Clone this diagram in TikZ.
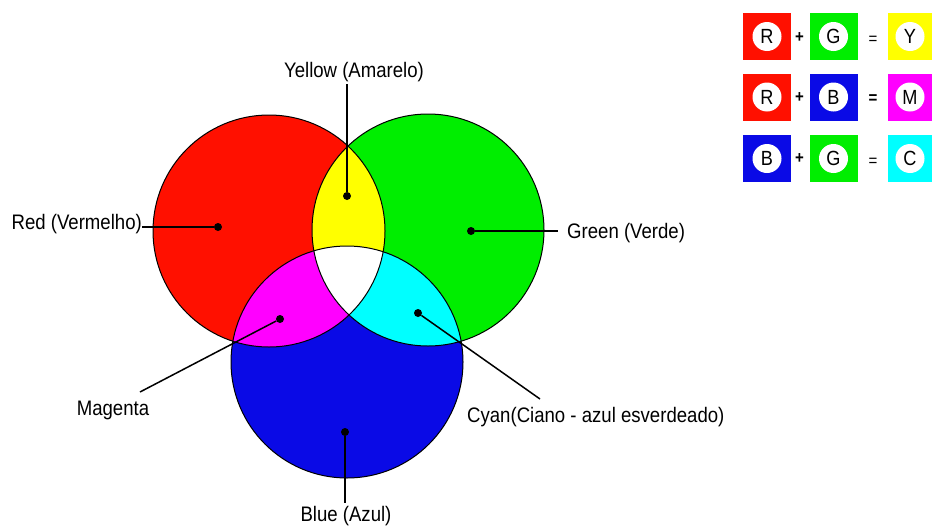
\documentclass[tikz,border=0pt]{standalone}
\usepackage{fontspec}
\setmainfont{Liberation Sans}[FakeStretch=0.885]
\definecolor{cR}{RGB}{255,16,0}
\definecolor{cG}{RGB}{0,238,0}
\definecolor{cB}{RGB}{10,10,230}
\definecolor{cY}{RGB}{255,255,0}
\definecolor{cM}{RGB}{255,0,255}
\definecolor{cC}{RGB}{0,255,255}
\begin{document}
\begin{tikzpicture}[x=1pt,y=-1pt,
  lbl/.style={font=\fontsize{21}{24}\selectfont, inner sep=0pt},
  lead/.style={line width=1.5pt, black},
  dotmark/.style={circle, fill=black, inner sep=0pt, minimum size=8pt},
  ring/.style={line width=1pt, black},
  sq/.style={minimum width=48pt, minimum height=47pt, inner sep=0pt},
  ltr/.style={circle, fill=white, minimum size=29pt, inner sep=0pt, font=\fontsize{20.5}{20}\selectfont},
  op/.style={font=\fontsize{17}{17}\selectfont, inner sep=0pt},
  opb/.style={font=\bfseries\fontsize{17}{17}\selectfont, inner sep=0pt}]
\useasboundingbox (0,0) rectangle (932,525);
\clip (0,0) rectangle (932,525);
\fill[white] (0,0) rectangle (932,525);

% circles
\coordinate (rc) at (269,231);
\coordinate (gc) at (428,230);
\coordinate (bc) at (347,362);
\fill[cR] (rc) circle[radius=116pt];
\fill[cG] (gc) circle[radius=116pt];
\fill[cB] (bc) circle[radius=116pt];
\begin{scope}
  \clip (rc) circle[radius=116pt];
  \fill[cY] (gc) circle[radius=116pt];
  \fill[cM] (bc) circle[radius=116pt];
\end{scope}
\begin{scope}
  \clip (gc) circle[radius=116pt];
  \fill[cC] (bc) circle[radius=116pt];
  \clip (bc) circle[radius=116pt];
  \fill[white] (rc) circle[radius=116pt];
\end{scope}
\draw[ring] (rc) circle[radius=116pt];
\draw[ring] (gc) circle[radius=116pt];
\draw[ring] (bc) circle[radius=116pt];

% dots
\node[dotmark] (dR) at (218,227) {};
\node[dotmark] (dG) at (471,231) {};
\node[dotmark] (dY) at (347,196) {};
\node[dotmark] (dM) at (280,319) {};
\node[dotmark] (dC) at (418,313) {};
\node[dotmark] (dB) at (345,432) {};

% labels
\node[lbl, anchor=base east] (tR) at (142,229) {Red (Vermelho)};
\node[lbl, anchor=base west] (tG) at (567,238) {Green (Verde)};
\node[lbl, anchor=base] (tY) at (354,77) {Yellow (Amarelo)};
\node[lbl, anchor=base] (tM) at (113,415) {Magenta};
\node[lbl, anchor=base west] (tC) at (467,422) {Cyan(Ciano - azul esverdeado)};
\node[lbl, anchor=base] (tB) at (346,521) {Blue (Azul)};

\coordinate (eR) at (142,227);
\coordinate (eG) at (558,231);
\coordinate (eY) at (347,84);
\coordinate (eM) at (140,392);
\coordinate (eC) at (540,399);
\coordinate (eB) at (345,503);
\draw[lead] (eR) -- (dR);
\draw[lead] (dG) -- (eG);
\draw[lead] (eY) -- (dY);
\draw[lead] (eM) -- (dM);
\draw[lead] (dC) -- (eC);
\draw[lead] (dB) -- (eB);

% legend
\node[sq, fill=cR] (s1a) at (767,36.5) {};
\node[sq, fill=cG] (s1b) at (833.5,36.5) {};
\node[sq, fill=cY] (s1c) at (912,36.5) {};
\node[sq, fill=cR] (s2a) at (767,97) {};
\node[sq, fill=cB] (s2b) at (833.5,97) {};
\node[sq, fill=cM] (s2c) at (912,97) {};
\node[sq, fill=cB] (s3a) at (767,158.5) {};
\node[sq, fill=cG] (s3b) at (833.5,158.5) {};
\node[sq, fill=cC] (s3c) at (912,158.5) {};

\node[ltr] (l1a) at (s1a) {R};
\node[ltr] (l1b) at (s1b) {G};
\node[ltr] (l1c) at ([xshift=-2pt]s1c.center) {Y};
\node[ltr] (l2a) at (s2a) {R};
\node[ltr] (l2b) at (s2b) {B};
\node[ltr] (l2c) at ([xshift=-2pt]s2c.center) {M};
\node[ltr] (l3a) at (s3a) {B};
\node[ltr] (l3b) at (s3b) {G};
\node[ltr] (l3c) at ([xshift=-2pt]s3c.center) {C};

\node[opb] (p1) at (799.5,38) {+};
\node[op] (q1) at (873,40) {=};
\node[opb] (p2) at (799.5,98) {+};
\node[opb] (q2) at (873,99) {=};
\node[opb] (p3) at (799.5,159) {+};
\node[op] (q3) at (873,162) {=};
\end{tikzpicture}
\end{document}
